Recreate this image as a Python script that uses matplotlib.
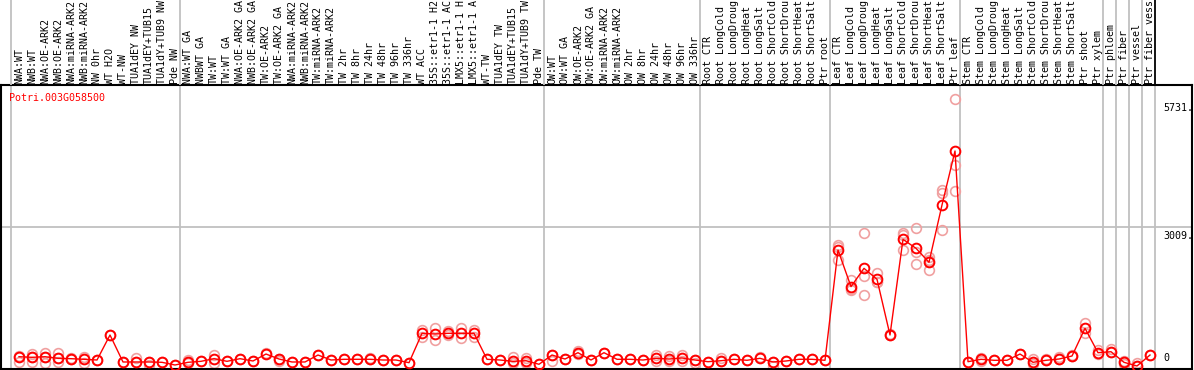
import matplotlib
matplotlib.use("Agg")
import matplotlib.pyplot as plt
import numpy as np

###Gene shown
gene_id = "Potri.003G058500"

###Sample labels (one column per sample, as far as they are visible in the header)
labels_nw = ["NWA:WT", "NWB:WT", "NWA:OE-ARK2", "NWB:OE-ARK2", "NWA:miRNA-ARK2", "NWB:miRNA-ARK2",
             "NW 0hr", "WT H2O", "WT-NW", "TUA1dEY NW", "TUA1dEY+TUB15", "TUA1dY+TUB9 NW", "Pde NW"]
labels_tw = ["NWA:WT GA", "NWBWT GA", "TW:WT", "TW:WT GA", "NWA:OE-ARK2 GA", "NWB:OE-ARK2 GA",
             "TW:OE-ARK2", "TW:OE-ARK2 GA", "NWA:miRNA-ARK2", "NWB:miRNA-ARK2", "TW:miRNA-ARK2",
             "TW:miRNA-ARK2", "TW 2hr", "TW 8hr", "TW 24hr", "TW 48hr", "TW 96hr", "TW 336hr",
             "WT ACC", "35S::etr1-1 H2", "35S::etr1-1 AC", "LMX5::etr1-1 H", "LMX5::etr1-1 A",
             "WT-TW", "TUA1dEY TW", "TUA1dEY+TUB15", "TUA1dY+TUB9 TW", "Pde TW"]
labels_ow = ["OW:WT", "OW:WT GA", "OW:OE-ARK2", "OW:OE-ARK2 GA", "OW:miRNA-ARK2", "OW:miRNA-ARK2",
             "OW 2hr", "OW 8hr", "OW 24hr", "OW 48hr", "OW 96hr", "OW 336hr"]
labels_root = ["Root CTR", "Root LongCold", "Root LongDroug", "Root LongHeat", "Root LongSalt",
               "Root ShortCold", "Root ShortDrou", "Root ShortHeat", "Root ShortSalt", "Ptr root"]
labels_leaf = ["Leaf CTR", "Leaf LongCold", "Leaf LongDroug", "Leaf LongHeat", "Leaf LongSalt",
               "Leaf ShortCold", "Leaf ShortDrou", "Leaf ShortHeat", "Leaf ShortSalt", "Ptr leaf"]
labels_stem = ["Stem CTR", "Stem LongCold", "Stem LongDroug", "Stem LongHeat", "Stem LongSalt",
               "Stem ShortCold", "Stem ShortDrou", "Stem ShortHeat", "Stem ShortSalt",
               "Ptr shoot", "Ptr xylem"]
labels_ptr = ["Ptr phloem", "Ptr fiber", "Ptr vessel", "Ptr fiber vess"]

###Mean expression per sample
mean_nw = [261, 248, 261, 227, 219, 206, 191, 722, 149, 149, 149, 142, 85]
mean_tw = [142, 163, 219, 163, 219, 170, 318, 212, 149, 149, 297, 191, 206, 206, 206, 191,
           191, 134, 758, 743, 758, 758, 758, 206, 191, 163, 176, 100]
mean_ow = [297, 212, 346, 191, 346, 206, 206, 191, 227, 212, 234, 191]
mean_root = [155, 176, 206, 185, 227, 149, 170, 206, 206, 185]
mean_leaf = [2526, 1748, 2137, 1904, 722, 2753, 2562, 2265, 3482, 4628]
mean_stem = [155, 206, 185, 185, 318, 142, 185, 212, 276, 864, 346]
mean_ptr = [367, 142, 64, 297]

###Replicate values per sample
reps_nw = [[155, 270], [318, 248, 155], [346, 261, 119], [333, 227, 155], [219, 230],
           [261, 134], [191], [722], [149], [227, 149], [149, 85], [142], [85]]
reps_tw = [[191, 119], [163], [297, 134], [163], [219], [170], [333], [212, 170], [149],
           [149], [297], [191], [206], [206], [206, 230], [191], [191], [134],
           [828, 680], [870, 616], [800, 715], [870, 657], [828, 672], [206], [191],
           [250, 134], [227, 119], [100]]
reps_ow = [[297, 170], [212], [380, 318], [191], [346], [206], [206], [191],
           [290, 170], [270, 170], [300, 170], [191, 130]]
reps_root = [[155], [230, 176], [206], [185], [250], [149, 60], [170], [206], [206], [185]]
reps_leaf = [[2633, 2314, 2600], [1889, 1677, 1700], [2881, 1974, 1571], [2032, 1853, 1850],
             [722, 740], [2881, 2526, 2852], [3000, 2490, 2229], [2384, 2102, 2309],
             [3800, 3743, 2951], [5731, 4331, 3779]]
reps_stem = [[155], [240, 170], [185], [185], [318], [212, 100], [185, 212], [250, 212],
             [276, 300], [970, 760], [400, 318]]
reps_ptr = [[420, 360], [160, 110], [130, 64], [297]]

###Axis labels on the right
ytick_vals = [5731, 3009, 0]
ytick_text = ["5731.", "3009.", "0"]

labels = labels_nw + labels_tw + labels_ow + labels_root + labels_leaf + labels_stem + labels_ptr
means = mean_nw + mean_tw + mean_ow + mean_root + mean_leaf + mean_stem + mean_ptr
reps = reps_nw + reps_tw + reps_ow + reps_root + reps_leaf + reps_stem + reps_ptr
groups = [labels_nw, labels_tw, labels_ow, labels_root, labels_leaf, labels_stem] + [[l] for l in labels_ptr]
bounds = np.cumsum([0] + [len(g) for g in groups])
x = np.arange(len(labels))

###Figure layout in pixels
W, H = 1194, 370
px_left, px_right, px_top, px_bot = 1, 1192, 85, 369
x0_px, dx_px = 19, 13          # first sample centre, column width
val_per_px = 21.23
xlim = ((px_left - x0_px) / dx_px, (px_right - x0_px) / dx_px)
ylim = (0, (px_bot - px_top) * val_per_px)

mono = "DejaVu Sans Mono"
fs = 7.2

fig = plt.figure(figsize=(W / 100, H / 100), dpi=100)
ax = fig.add_axes([px_left / W, (H - px_bot) / H, (px_right - px_left) / W, (px_bot - px_top) / H])
lax = fig.add_axes([px_left / W, (H - px_top) / H, (px_right - px_left) / W, px_top / H])

ax.set_xlim(*xlim)
ax.set_ylim(*ylim)
lax.set_xlim(*xlim)
lax.set_ylim(0, px_top)
lax.axis("off")

###Group separators
for b in bounds:
    ax.axvline(b - 0.6, color="#c0c0c0", lw=1.3, zorder=1)
    lax.axvline(b - 0.6, color="black" if b == bounds[-1] else "#c0c0c0", lw=1.3, zorder=1)
ax.axhline(3009, color="#c0c0c0", lw=1.3, zorder=1)

###Sample labels
for xi, lab in zip(x, labels):
    lax.text(xi, 1.5, lab, rotation=90, ha="center", va="bottom", family=mono, fontsize=fs)

###Replicates then mean line
rx = [i for i, r in enumerate(reps) for _ in r]
ry = [v for r in reps for v in r]
ax.plot(rx, ry, ls="none", marker="o", ms=7, mfc="none", mec="#f0a0a0", mew=1.2, zorder=2,
        clip_on=False)
ax.plot(x, means, color="red", lw=1, marker="o", ms=7, mfc="none", mec="red", mew=1.4,
        zorder=3, clip_on=False)

###Right-hand value labels
for v, t in zip(ytick_vals, ytick_text):
    off = 4 if v == 0 else -3
    ax.annotate(t, (88.0, v), xytext=(0, off), textcoords="offset points", ha="left",
                va="bottom" if v == 0 else "top", family=mono, fontsize=fs)

ax.text(0.007, 0.955, gene_id, transform=ax.transAxes, color="red", family=mono, fontsize=fs,
        ha="left", va="center")

for s in ax.spines.values():
    s.set_color("black")
    s.set_linewidth(1.5)
ax.set_xticks([])
ax.set_yticks([])

fig.savefig("out.png", dpi=100)
